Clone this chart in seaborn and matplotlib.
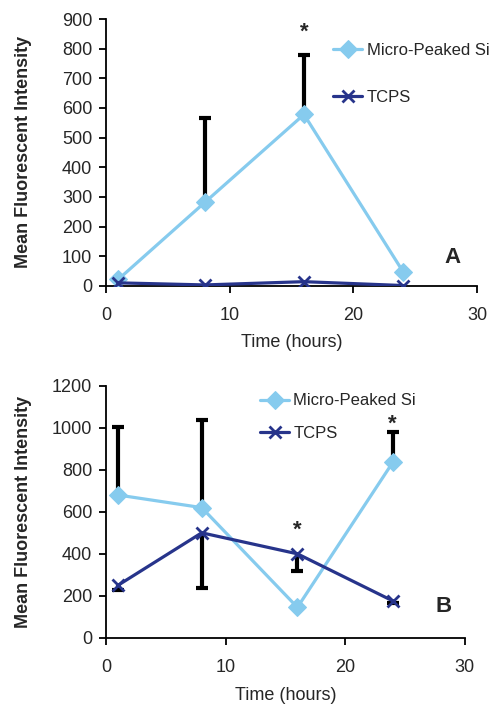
import matplotlib
matplotlib.use("Agg")
import matplotlib.pyplot as plt
import seaborn as sns
import pandas as pd

# data
hours = [1, 8, 16, 24]

# panel A
a_micro = [22, 282, 578, 48]
a_tcps = [10, 3, 14, 1]
a_micro_err_x = [8, 16]
a_micro_err_top = [565, 780]

# panel B
b_micro = [680, 620, 145, 838]
b_tcps = [250, 500, 400, 175]
b_micro_err_x = [1, 8, 24]
b_micro_err_top = [1005, 1035, 980]
b_tcps_err_x = [1, 8, 16, 24]
b_tcps_err_low = [230, 235, 320, 165]

light = "#86CBEE"
dark = "#27348B"

sns.set_style("ticks")
plt.rcParams["font.family"] = ["Liberation Sans", "DejaVu Sans"]

fig = plt.figure(figsize=(4.93, 7.04), dpi=100)
axA = fig.add_axes([0.215, 0.594, 0.753, 0.379])
axB = fig.add_axes([0.215, 0.094, 0.728, 0.358])


def err_bars(ax, xs, y_from, y_to):
    ax.vlines(xs, y_from, y_to, color="black", lw=3, zorder=1)
    ax.plot(xs, y_to, linestyle="none", marker="_", ms=8, mew=3,
            color="black", zorder=1)


def panel(ax, micro, tcps):
    df = pd.DataFrame({"hours": hours, "micro": micro, "tcps": tcps})
    sns.lineplot(data=df, x="hours", y="micro", ax=ax, color=light, lw=2.3,
                 marker="D", ms=9, mec=light, label="Micro-Peaked Si", zorder=3)
    sns.lineplot(data=df, x="hours", y="tcps", ax=ax, color=dark, lw=2.3,
                 marker="x", ms=8, mew=2, mec=dark, label="TCPS", zorder=3)
    ax.set_xlim(0, 30)
    ax.set_xticks([0, 10, 20, 30])
    ax.set_xlabel("Time (hours)", fontsize=13)
    ax.set_ylabel("Mean Fluorescent Intensity", fontsize=13, fontweight="bold")
    ax.tick_params(labelsize=13, width=1.3, length=5, color="black")
    ax.tick_params(axis="x", pad=10)
    ax.tick_params(axis="y", pad=5)
    for s in ["left", "bottom"]:
        ax.spines[s].set_linewidth(1.3)
        ax.spines[s].set_color("black")
    sns.despine(ax=ax)


# panel A
panel(axA, a_micro, a_tcps)
axA.set_ylim(0, 900)
axA.set_yticks(range(0, 901, 100))
err_bars(axA, a_micro_err_x,
         [a_micro[hours.index(x)] for x in a_micro_err_x], a_micro_err_top)
axA.text(16, 855, "*", fontsize=16, fontweight="bold", ha="center", va="center")
axA.text(28.0, 94, "A", fontsize=16, fontweight="bold", ha="center", va="center")
axA.legend(loc="upper left", bbox_to_anchor=(0.612, 0.91), frameon=False,
           fontsize=12, handlelength=1.75, handletextpad=0.25, labelspacing=1.9,
           borderpad=0, borderaxespad=0)
axA.yaxis.set_label_coords(-0.2, 0.5)
axA.xaxis.set_label_coords(0.5, -0.18)

# panel B
panel(axB, b_micro, b_tcps)
axB.set_ylim(0, 1200)
axB.set_yticks(range(0, 1201, 200))
err_bars(axB, b_micro_err_x,
         [b_micro[hours.index(x)] for x in b_micro_err_x], b_micro_err_top)
err_bars(axB, b_tcps_err_x,
         [b_tcps[hours.index(x)] for x in b_tcps_err_x], b_tcps_err_low)
axB.text(16, 510, "*", fontsize=16, fontweight="bold", ha="center", va="center")
axB.text(23.9, 1015, "*", fontsize=16, fontweight="bold", ha="center", va="center")
axB.text(28.2, 148, "B", fontsize=16, fontweight="bold", ha="center", va="center")
axB.legend(loc="upper left", bbox_to_anchor=(0.429, 0.97), frameon=False,
           fontsize=12, handlelength=1.75, handletextpad=0.25, labelspacing=1.05,
           borderpad=0, borderaxespad=0)
axB.yaxis.set_label_coords(-0.207, 0.5)
axB.xaxis.set_label_coords(0.5, -0.195)

fig.savefig("out.png", dpi=100)
